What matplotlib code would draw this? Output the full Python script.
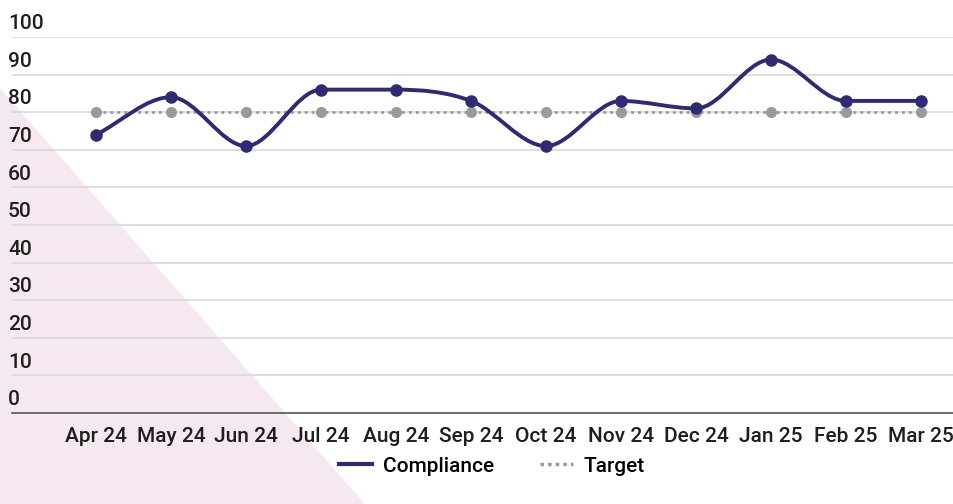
import numpy as np
import matplotlib.pyplot as plt
from matplotlib.path import Path
from matplotlib.patches import PathPatch, Polygon
from matplotlib.lines import Line2D

plt.rcParams['font.family'] = ['Roboto', 'DejaVu Sans']

# Данные
months = ['Apr 24', 'May 24', 'Jun 24', 'Jul 24', 'Aug 24', 'Sep 24',
          'Oct 24', 'Nov 24', 'Dec 24', 'Jan 25', 'Feb 25', 'Mar 25']
compliance = [74, 84, 71, 86, 86, 83, 71, 83, 81, 94, 83, 83]
target = [80, 80, 80, 80, 80, 80, 80, 80, 80, 80, 80, 80]
y_ticks = [0, 10, 20, 30, 40, 50, 60, 70, 80, 90, 100]

LINE_COLOR = '#2f2a72'
TARGET_COLOR = '#9a9a9a'
TEXT_COLOR = '#1e1e1e'
W, H = 954, 504


def monotone_path(xs, ys):
    """Кривая Безье с монотонными касательными (Fritsch-Carlson)"""
    xs = np.asarray(xs, float)
    ys = np.asarray(ys, float)
    n = len(xs)
    d = np.diff(ys) / np.diff(xs)
    m = np.zeros(n)
    m[0], m[-1] = d[0], d[-1]
    for i in range(1, n - 1):
        if d[i - 1] * d[i] <= 0:
            m[i] = 0
        else:
            m[i] = (d[i - 1] + d[i]) / 2
    for i in range(n - 1):
        if d[i] == 0:
            m[i] = m[i + 1] = 0
            continue
        a, b = m[i] / d[i], m[i + 1] / d[i]
        s = a * a + b * b
        if s > 9:
            t = 3 / np.sqrt(s)
            m[i], m[i + 1] = t * a * d[i], t * b * d[i]
    verts = [(xs[0], ys[0])]
    codes = [Path.MOVETO]
    for i in range(n - 1):
        h = xs[i + 1] - xs[i]
        verts += [(xs[i] + h / 3, ys[i] + m[i] * h / 3),
                  (xs[i + 1] - h / 3, ys[i + 1] - m[i + 1] * h / 3),
                  (xs[i + 1], ys[i + 1])]
        codes += [Path.CURVE4] * 3
    return Path(verts, codes)


fig = plt.figure(figsize=(W / 100, H / 100), dpi=100)

# Розовый треугольник на фоне
fig.patches.append(Polygon([(0, 1 - 88 / H), (0, 0), (365 / W, 0)], closed=True,
                           transform=fig.transFigure, facecolor='#f6e8f1',
                           edgecolor='none', zorder=-10))

ax = fig.add_axes([12 / W, (H - 413) / H, (W - 12) / W, 376 / H])
ax.set_facecolor('none')
x = np.arange(len(months))
px = 75.0
ax.set_xlim(-84 / px, 11 + 33 / px)
ax.set_ylim(0, 100)

for v in y_ticks:
    if v == 0:
        ax.axhline(v, color='#555555', lw=1.2, zorder=1, clip_on=False)
    else:
        ax.axhline(v, color='#d9d9d9', lw=1.2, zorder=1)
    ax.text(-4 / W, v + 1.0, str(v), transform=ax.get_yaxis_transform(),
            ha='left', va='bottom', fontsize=15, fontweight='medium',
            color=TEXT_COLOR)

# Целевая линия
ax.plot(x, target, color=TARGET_COLOR, lw=2, ls=(0, (1, 1.5)), marker='o',
        markersize=7, markerfacecolor=TARGET_COLOR, markeredgecolor=TARGET_COLOR, zorder=2)

# Фактическое соответствие
ax.add_patch(PathPatch(monotone_path(x, compliance), facecolor='none',
                       edgecolor=LINE_COLOR, lw=2.8, zorder=3, capstyle='round'))
ax.plot(x, compliance, ls='none', marker='o', markersize=8,
        color=LINE_COLOR, zorder=4)

ax.set_xticks(x)
ax.set_xticklabels(months, fontsize=15, fontweight='medium', color=TEXT_COLOR)
ax.tick_params(axis='x', length=0, pad=10)
ax.set_yticks([])
for s in ax.spines.values():
    s.set_visible(False)

handles = [Line2D([], [], color=LINE_COLOR, lw=3),
           Line2D([], [], color=TARGET_COLOR, lw=2.5, ls=(0, (1, 1.2)))]
fig.legend(handles, ['Compliance', 'Target'], loc='center',
           bbox_to_anchor=(492 / W, 1 - 466 / H), ncol=2, frameon=False,
           prop={'size': 15, 'weight': 'medium'}, handlelength=1.6,
           columnspacing=2.2, handletextpad=0.5)

fig.savefig('out.png', dpi=100)
